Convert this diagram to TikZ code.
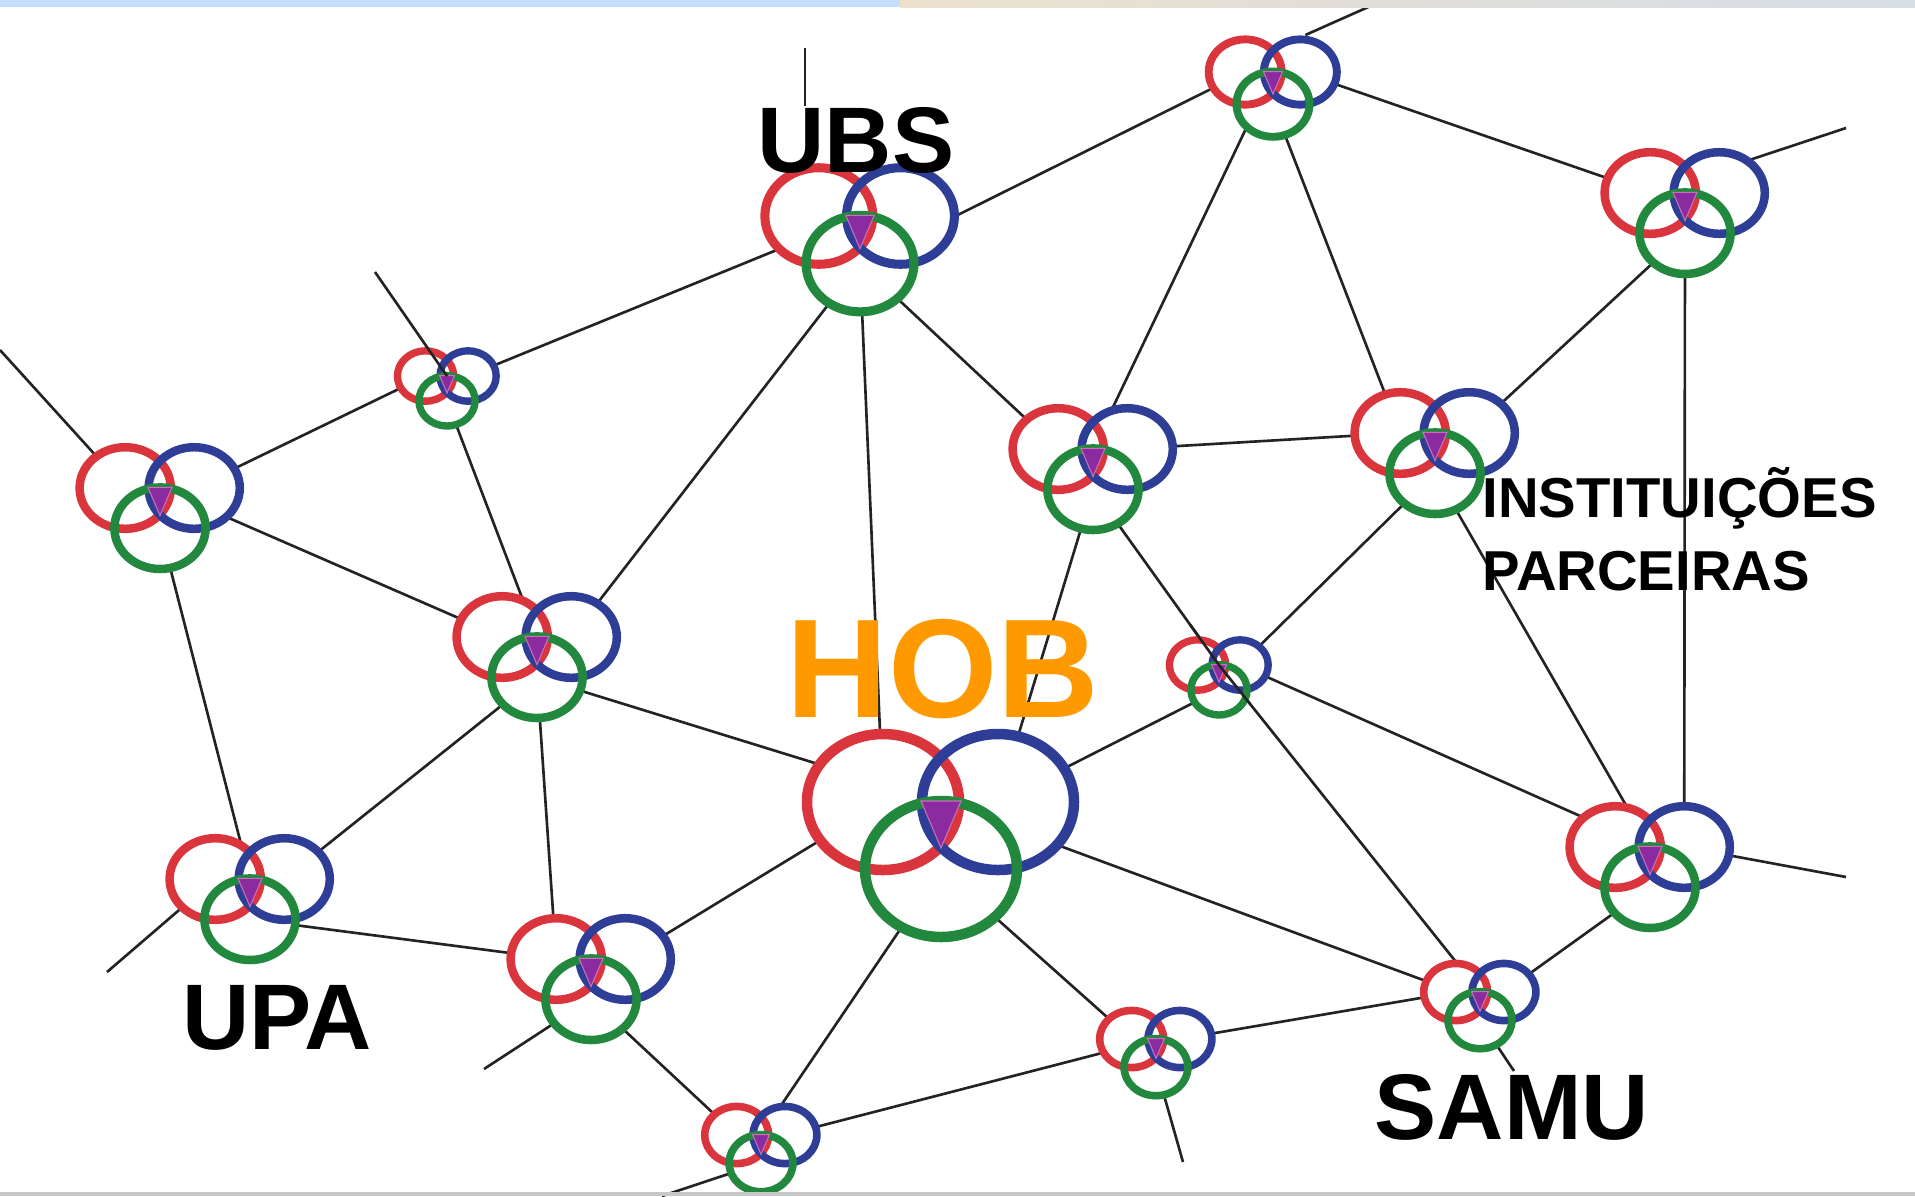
\documentclass[tikz,border=0pt]{standalone}
\usepackage{fontspec}
\setmainfont{Liberation Sans}
\usetikzlibrary{calc}

\definecolor{ringred}{RGB}{218,52,60}
\definecolor{ringblue}{RGB}{46,62,150}
\definecolor{ringgreen}{RGB}{34,136,62}
\definecolor{knotpurple}{RGB}{138,44,160}
\definecolor{knotpink}{RGB}{205,110,185}
\definecolor{hoborange}{RGB}{255,153,0}
\definecolor{linegray}{RGB}{35,35,35}
\definecolor{bandblue}{RGB}{195,221,250}
\definecolor{bandbeige}{RGB}{236,224,204}
\definecolor{bandgray}{RGB}{214,222,232}
\definecolor{bandline}{RGB}{200,200,200}

\begin{document}
\begin{tikzpicture}[x=0.01cm,y=-0.01cm,
        edge/.style={linegray,line width=0.75pt},
        ring/.style={line width=#1},
        nettext/.style={font=\bfseries\fontsize{26.5}{30}\selectfont,anchor=base,inner sep=0pt}]

        \useasboundingbox (0,0) rectangle (1915,1196);

        % name/x/y/scale of every knot
        \def\knotlist{n5/160/488/0.6, n4/447/376/0.37, ubs/860/216/0.71,
            n2/1273/72/0.48, n3/1685/193/0.6, n6/1093/449/0.6,
            n7/1435/433/0.6, n8/537/637/0.6, n9/1219/665/0.37,
            hob/941/802/1, n11/1650/847/0.6, upa/250/879/0.6,
            n13/591/959/0.6, n14/1480/992/0.42, n15/1156/1039/0.42,
            n16/761/1135/0.42}

        % centre of each knot and of its three rings
        \foreach \name/\x/\y/\s in \knotlist {
                \begin{scope}[shift={(\x,\y)},scale=\s]
                        \coordinate (\name) at (0,0);
                        \coordinate (\name-r) at (-58,0);
                        \coordinate (\name-b) at (57,0);
                        \coordinate (\name-g) at (0,67);
                \end{scope}
        }

        % free ends of the lines
        \coordinate (edgeW) at (0,350);
        \coordinate (edgeNW) at (375,272);
        \coordinate (ubsTop) at (805,48);
        \coordinate (edgeN) at (1384,0);
        \coordinate (edgeNE) at (1846,128);
        \coordinate (edgeE) at (1846,877);
        \coordinate (edgeSW) at (484,1069);
        \coordinate (edgeWSW) at (107,972);
        \coordinate (edgeS) at (662,1196);
        \coordinate (edgeSE) at (1183,1162);
        \coordinate (samuTop) at (1514,1071);

        % draw the links between the knots
        \foreach \a/\b in {n5-b/n4-r, n4-b/ubs, n5/n8-r, n4-g/n8, n5-g/upa,
            n8-b/ubs-g, ubs-g/n2-r, ubs-g/hob-r, ubs-g/n6-r, n6/n2,
            n6-b/n7-r, n6-g/hob-b, n6-g/n9, n2-b/n3-r, n2-g/n7-r,
            n3-g/n7-b, n3-g/n11-b, n7-g/n9-b, n7-g/n11, upa-b/n8-g,
            upa-g/n13-r, n8-g/n13-r, n8-g/hob, n13-b/hob-r, n13-g/n16-r,
            hob-g/n16, hob-g/n15-r, hob/n14-r, hob-b/n9-g, n9-b/n11,
            n9/n14, n16-b/n15, n15-b/n14-r, n11-g/n14-b}
                \draw[edge] (\a) -- (\b);

        % lines that leave the net
        \draw[edge] (edgeW) -- (n5-r);
        \draw[edge] ($(n2-b)+(5,-37)$) -- (edgeN);
        \draw[edge] ($(n3-b)+(0,-23)$) -- (edgeNE);
        \draw[edge] (n11-b) -- (edgeE);
        \draw[edge] (n13-g) -- (edgeSW);
        \draw[edge] (upa-r) -- (edgeWSW);
        \draw[edge] (n16-g) -- (edgeS);
        \draw[edge] (n15-g) -- (edgeSE);
        \draw[edge] (n14-g) -- (samuTop);

        % draw the three rings of every knot
        \foreach \name/\x/\y/\s in \knotlist {
                \pgfmathsetmacro\w{0.2845*(5.5+5*\s)}
                \begin{scope}[shift={(\x,\y)},scale=\s]
                        \fill[white] (-58,0) circle[x radius=76,y radius=68]
                                (57,0) circle[x radius=76,y radius=68]
                                (0,67) circle[x radius=76,y radius=68];
                        \draw[ring=\w pt,ringred] (-58,0) circle[x radius=76,y radius=68];
                        \draw[ring=\w pt,ringblue] (57,0) circle[x radius=76,y radius=68];
                        \draw[ring=\w pt,ringgreen] (0,67) circle[x radius=76,y radius=68];
                        \filldraw[fill=knotpurple,draw=knotpink,line width=0.3pt]
                                (-20,-1) -- (20,-1) -- (0,46) -- cycle;
                \end{scope}
        }

        % lines that run over the small knots
        \draw[edge] (edgeNW) -- (n4);
        \draw[edge] ($(n9)!0.5cm!(n6-g)$) -- (n9) -- ($(n9)!0.5cm!(n14)$);

        % draw the names
        \node[nettext] (ubslabel) at (856,172) {UBS};
        \node[nettext,font=\bfseries\fontsize{40}{44}\selectfont,text=hoborange] (hoblabel) at (943,717) {HOB};
        \node[nettext] (upalabel) at (277,1049) {UPA};
        \node[nettext] (samulabel) at (1512,1139) {SAMU};
        \node[nettext,font=\bfseries\fontsize{16}{20.5}\selectfont,align=left,anchor=base west] (instlabel) at (1482,590) {INSTITUIÇÕES\\PARCEIRAS};
        \draw[edge] (ubsTop) -- (ubsTop |- ubslabel.north);

        % strips at the top and the bottom
        \fill[bandblue] (0,0) rectangle (900,7);
        \shade[left color=bandbeige,right color=bandgray] (900,0) rectangle (1915,7);
        \fill[bandline] (0,1192) rectangle (1915,1196);
\end{tikzpicture}
\end{document}
